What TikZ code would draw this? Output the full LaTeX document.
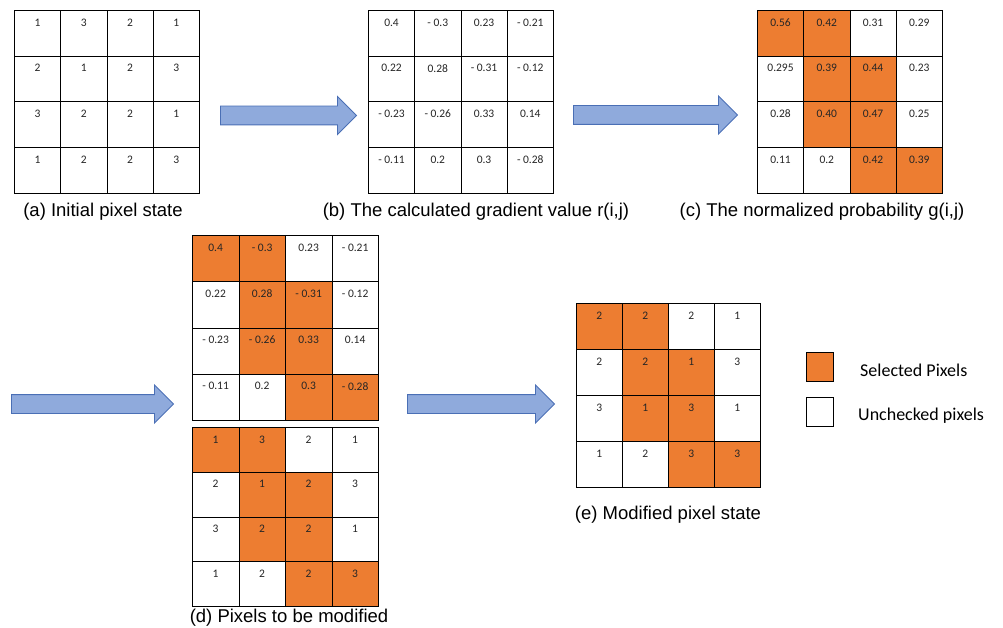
\documentclass[tikz,border=0pt]{standalone}
\usepackage{fontspec}
\setmainfont{Liberation Sans}
\newfontfamily\calfont{Carlito}
\usetikzlibrary{shapes.arrows}
\definecolor{sel}{HTML}{ED7D31}
\definecolor{arrfill}{HTML}{8FAADC}
\definecolor{arrdraw}{HTML}{4A6FB5}
\definecolor{numcol}{HTML}{262626}
\tikzset{
  cell/.style={draw=black, line width=0.8pt, anchor=north west, inner sep=0pt, rectangle},
  num/.style={font=\calfont\fontsize{11.5}{13}\selectfont, text=numcol, inner sep=0pt},
  caption/.style={font=\fontsize{18.5}{21}\selectfont, inner sep=0pt},
  legtext/.style={font=\calfont\fontsize{18}{21}\selectfont, inner sep=0pt, anchor=west},
  legbox/.style={draw=black, line width=1.5pt, minimum width=27pt, minimum height=29pt, inner sep=0pt},
  bigarrow/.style={single arrow, fill=arrfill, draw=arrdraw, line width=0.9pt,
    single arrow head extend=9.5pt, inner xsep=0pt, inner ysep=9pt, anchor=tail,
    single arrow tip angle=90, shape border rotate=0}
}
\newcommand\pixgrid[6]{%
  \foreach \v/\f [count=\i from 0] in {#6}{%
    \pgfmathtruncatemacro\cc{mod(\i,4)}%
    \pgfmathtruncatemacro\rr{div(\i,4)}%
    \ifnum\f=1 \def\fc{sel}\else\def\fc{white}\fi
    \node[cell, fill=\fc, minimum width=#4, minimum height=#5] (#1-\rr-\cc) at ({#2+\cc*#4},{#3+\rr*#5}) {};
    \node[num] (#1-\rr-\cc-t) at ([yshift=-12.5pt]#1-\rr-\cc.north) {\v};
  }%
}
\begin{document}
\begin{tikzpicture}[x=1pt,y=-1pt]
\useasboundingbox (0,0) rectangle (1003,628);
% (a)
\pixgrid{a}{14}{10}{46.25}{45.75}{1/0,3/0,2/0,1/0, 2/0,1/0,2/0,3/0, 3/0,2/0,2/0,1/0, 1/0,2/0,2/0,3/0}
\node[caption] (capa) at (103,212) {(a) Initial pixel state};
% (b)
\pixgrid{b}{368}{10}{46.25}{45.75}{0.4/0,- 0.3/0,0.23/0,- 0.21/0, 0.22/0,0.28/0,- 0.31/0,- 0.12/0, - 0.23/0,- 0.26/0,0.33/0,0.14/0, - 0.11/0,0.2/0,0.3/0,- 0.28/0}
\node[caption] (capb) at (476,212) {(b) The calculated gradient value r(i,j)};
% (c)
\pixgrid{c}{757}{10}{46.25}{45.75}{0.56/1,0.42/1,0.31/0,0.29/0, 0.295/0,0.39/1,0.44/1,0.23/0, 0.28/0,0.40/1,0.47/1,0.25/0, 0.11/0,0.2/0,0.42/1,0.39/1}
\node[caption] (capc) at (822,212) {(c) The normalized probability g(i,j)};
% (d) top
\pixgrid{dt}{192}{235}{46.5}{46.25}{0.4/1,- 0.3/1,0.23/0,- 0.21/0, 0.22/0,0.28/1,- 0.31/1,- 0.12/0, - 0.23/0,- 0.26/1,0.33/1,0.14/0, - 0.11/0,0.2/0,0.3/1,- 0.28/1}
% (d) bottom
\pixgrid{db}{192}{427}{46.5}{44.75}{1/1,3/1,2/0,1/0, 2/0,1/1,2/1,3/0, 3/0,2/1,2/1,1/0, 1/0,2/0,2/1,3/1}
\node[caption] (capd) at (289,618) {(d) Pixels to be modified};
% (e)
\pixgrid{e}{576}{303}{46}{46}{2/1,2/1,2/0,1/0, 2/0,2/1,1/1,3/0, 3/0,1/1,3/1,1/0, 1/0,2/0,3/1,3/1}
\node[caption] (cape) at (668,515) {(e) Modified pixel state};
% arrows
\node[bigarrow, minimum height=136pt] (arr1) at (220,115.5) {};
\node[bigarrow, minimum height=164pt] (arr2) at (573,115) {};
\node[bigarrow, minimum height=162pt] (arr3) at (11,404) {};
\node[bigarrow, minimum height=147pt] (arr4) at (407,404) {};
% legend
\node[legbox, fill=sel] (lsel) at (820,367) {};
\node[legbox, fill=white] (lunc) at (820,412) {};
\node[legtext] (lselt) at (860,370) {Selected Pixels};
\node[legtext] (lunct) at (858,416) {Unchecked pixels};
\end{tikzpicture}
\end{document}
